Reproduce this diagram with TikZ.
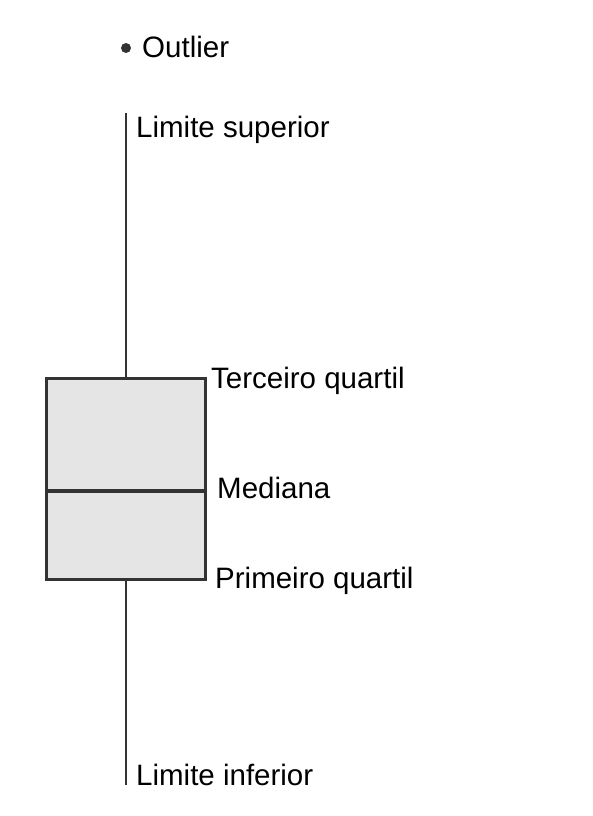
\documentclass[tikz,border=0pt]{standalone}
\usepackage{fontspec}
\setmainfont{Liberation Sans}
\definecolor{linec}{HTML}{333333}
\definecolor{boxfill}{HTML}{E5E5E5}
\tikzset{
  lbl/.style={anchor=base west, inner sep=0pt, font=\fontsize{29.5}{34}\selectfont, text=black},
  whisk/.style={draw=linec, line width=2pt},
  boxst/.style={draw=linec, line width=2.6pt, fill=boxfill, minimum width=159pt, minimum height=201pt, inner sep=0pt, anchor=north west},
}
\begin{document}
\begin{tikzpicture}[x=1pt,y=-1pt]
\useasboundingbox (0,0) rectangle (593,816);
\node[boxst] (box) at (45,377) {};
\coordinate (top) at (126,113);
\coordinate (bot) at (126,785);
\coordinate (boxtop) at (126,377);
\coordinate (boxbot) at (126,579);
\draw[whisk] (top) -- (boxtop);
\draw[whisk] (boxbot) -- (bot);
\coordinate (ml) at (45,490.5);
\coordinate (mr) at (205,490.5);
\draw[draw=linec, line width=4pt] (ml) -- (mr);
\node[circle, fill=linec, inner sep=0pt, minimum size=10pt] (out) at (126,48) {};
\node[lbl] (tout) at (142,58) {Outlier};
\node[lbl] (tsup) at (136,137) {Limite superior};
\node[lbl] (tq3) at (211,388) {Terceiro quartil};
\node[lbl] (tmed) at (217,498) {Mediana};
\node[lbl] (tq1) at (215,588) {Primeiro quartil};
\node[lbl] (tinf) at (136,785) {Limite inferior};
\end{tikzpicture}
\end{document}
